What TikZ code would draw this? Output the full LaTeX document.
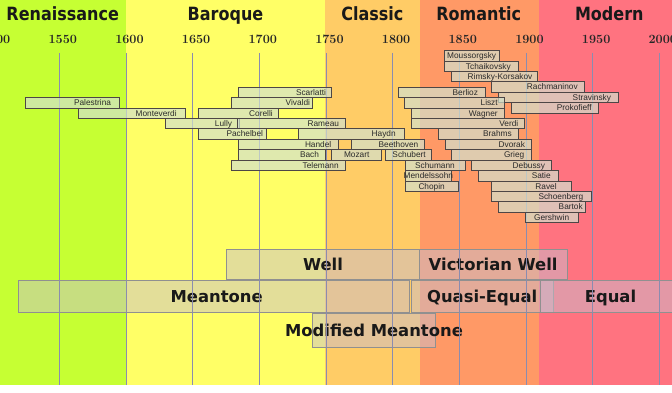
\documentclass[tikz,border=0pt]{standalone}
\usepackage{fontspec}
\newfontfamily\cfont{Liberation Sans}
\newfontfamily\hdfont{DejaVu Sans}
\definecolor{ren}{HTML}{C6FF33}
\definecolor{bar}{HTML}{FFFF66}
\definecolor{cla}{HTML}{FFCC66}
\definecolor{rom}{HTML}{FF9966}
\definecolor{mod}{HTML}{FF7380}
\definecolor{gridc}{HTML}{8A8CB0}
\definecolor{barline}{HTML}{4D4646}
\definecolor{barfill}{RGB}{210,225,205}
\definecolor{bartext}{HTML}{2A2A2A}
\definecolor{bandline}{HTML}{909090}
\definecolor{bandfill}{RGB}{200,190,205}
\newcommand\compR[6]{%
  \pgfmathsetmacro\cbw{#4-#3}%
  \pgfmathsetmacro\cbx{(#3+#4)/2}%
  \pgfmathsetmacro\cby{87+10.43*(#5)+5.215}%
  \pgfmathsetmacro\cbt{#4-#3-2*(#6)}%
  \node[cbar, minimum width=\cbw pt] (#1) at (\cbx,\cby) {\makebox[\cbt pt][r]{#2}};}
\newcommand\compC[5]{%
  \pgfmathsetmacro\cbw{#4-#3}%
  \pgfmathsetmacro\cbx{(#3+#4)/2}%
  \pgfmathsetmacro\cby{87+10.43*(#5)+5.215}%
  \node[cbar, minimum width=\cbw pt] (#1) at (\cbx,\cby) {\makebox[0pt][c]{#2}};}
\begin{document}
\begin{tikzpicture}[x=1pt,y=-1pt,
  cbar/.style={draw=barline, fill=barfill, fill opacity=0.7, text opacity=1,
    inner sep=0pt, minimum height=10.43pt, line width=0.7pt,
    text height=7pt, text depth=1pt,
    font=\cfont\fontsize{8.3}{9}\selectfont, text=bartext},
  band/.style={draw=bandline, fill=bandfill, fill opacity=0.5, text opacity=1,
    inner sep=0pt, line width=0.8pt, text height=13.5pt, text depth=0.7pt,
    font=\hdfont\bfseries\fontsize{16.4}{18}\selectfont, text=black!90},
  period/.style={font=\hdfont\bfseries\fontsize{16}{18}\selectfont, text=black!90,
    inner sep=0pt, anchor=base},
  yearlab/.style={font=\bfseries\fontsize{12.6}{14}\selectfont, text=black!85,
    inner sep=0pt, anchor=base},
  gridln/.style={draw=gridc, line width=0.8pt}
]
\useasboundingbox (0,0) rectangle (672,393);
\fill[white] (0,0) rectangle (672,393);
% period backgrounds
\fill[ren] (0,0) rectangle (125.7,385);
\fill[bar] (125.7,0) rectangle (325,385);
\fill[cla] (325,0) rectangle (420,385);
\fill[rom] (420,0) rectangle (539.3,385);
\fill[mod] (539.3,0) rectangle (672,385);
% period names
\node[period] (renaissance) at (62.7,20.7) {\scalebox{1}[1.14]{Renaissance}};
\node[period] (baroque) at (225.5,20.7) {\scalebox{1}[1.14]{Baroque}};
\node[period] (classic) at (372.3,20.7) {\scalebox{1}[1.14]{Classic}};
\node[period] (romantic) at (478.8,20.7) {\scalebox{1}[1.14]{Romantic}};
\node[period] (modern) at (609.3,20.7) {\scalebox{1}[1.14]{Modern}};
% tuning bands
\node[band, minimum width=192.6pt, minimum height=30.3pt] (well) at (323,264.15) {\makebox[0pt]{Well}};
\node[band, minimum width=147.7pt, minimum height=30.3pt] (victorian) at (493.15,264.15) {\makebox[0pt]{Victorian Well}};
\node[band, minimum width=391pt, minimum height=32.3pt] (meantone) at (213.8,296.15) {\makebox[0pt]{\hspace*{5.8pt}Meantone}};
\node[band, minimum width=142.3pt, minimum height=32.3pt] (quasi) at (482.15,296.15) {\makebox[0pt]{Quasi-Equal}};
\node[band, minimum width=141pt, minimum height=32.3pt] (equal) at (610.5,296.15) {\makebox[0pt]{Equal}};
\node[band, minimum width=122.6pt, minimum height=34pt] (modmean) at (374,330.3) {\makebox[0pt]{Modified Meantone}};
% grid lines and year labels
\foreach \k/\yr in {0/1500,1/1550,2/1600,3/1650,4/1700,5/1750,6/1800,7/1850,8/1900,9/1950,10/2000}{
  \pgfmathsetmacro\gx{-7.37+66.67*\k}
  \coordinate (gt\k) at (\gx,53);
  \coordinate (gb\k) at (\gx,385);
  \draw[gridln] (gt\k) -- (gb\k);
  \node[yearlab] (yr\k) at (\gx+3.5,43.3) {\yr};
}
% composers, left group
\compR{palestrina}{Palestrina}{25.3}{119}{1}{8}
\compR{monteverdi}{Monteverdi}{78.3}{185.3}{2}{8.6}
\compR{lully}{Lully}{165.3}{239}{3}{7}
\compR{pachelbel}{Pachelbel}{198.7}{266}{4}{3}
\compR{scarlatti}{Scarlatti}{238.3}{331.7}{0}{5.7}
\compR{vivaldi}{Vivaldi}{231.7}{312}{1}{2}
\compR{corelli}{Corelli}{198.7}{278.3}{2}{5.6}
\compR{rameau}{Rameau}{237.5}{345}{3}{6}
\compR{haydn}{Haydn}{298.3}{404.3}{4}{8.6}
\compR{handel}{Handel}{238.3}{338.3}{5}{7}
\compR{beethoven}{Beethoven}{351.7}{424}{5}{5.7}
\compR{bach}{Bach}{238.3}{325}{6}{6}
\compC{mozart}{Mozart}{331.7}{381.7}{6}
\compR{schubert}{Schubert}{385}{431.7}{6}{6}
\compR{telemann}{Telemann}{231.7}{345}{7}{6.3}
% composers, right group
\compC{moussorgsky}{Moussorgsky}{444.3}{499}{-3.5}
\compR{tchaikovsky}{Tchaikovsky}{444.3}{518.3}{-2.5}{7.6}
\compR{rimsky}{Rimsky-Korsakov}{451.7}{537.7}{-1.5}{5.4}
\compR{rachmaninov}{Rachmaninov}{491.7}{584.3}{-0.5}{6.6}
\compR{berlioz}{Berlioz}{398.3}{485}{0}{7}
\compR{stravinsky}{Stravinsky}{498.3}{618.3}{0.5}{7.3}
\compR{liszt}{Liszt}{404.7}{504.3}{1}{6.6}
\compR{prokofieff}{Prokofieff}{511.7}{598.3}{1.5}{6.6}
\compR{wagner}{Wagner}{411.7}{504.3}{2}{6.6}
\compR{verdi}{Verdi}{411.7}{524.3}{3}{6}
\compR{brahms}{Brahms}{438.3}{518.3}{4}{6.6}
\compR{dvorak}{Dvorak}{445}{531.7}{5}{6.7}
\compR{grieg}{Grieg}{451.7}{531.7}{6}{7.4}
\compC{schumann}{Schumann}{405}{465}{7}
\compR{debussy}{Debussy}{471.7}{551.7}{7}{6.7}
\compC{mendelssohn}{Mendelssohn}{405}{451.7}{8}
\compR{satie}{Satie}{478.3}{558.3}{8}{7.6}
\compC{chopin}{Chopin}{405}{458.3}{9}
\compR{ravel}{Ravel}{491.7}{571.7}{9}{15}
\compR{schoenberg}{Schoenberg}{491.7}{591.7}{10}{8.4}
\compR{bartok}{Bartok}{498.3}{585}{11}{2.3}
\compC{gershwin}{Gershwin}{525}{578.3}{12}
\end{tikzpicture}
\end{document}
